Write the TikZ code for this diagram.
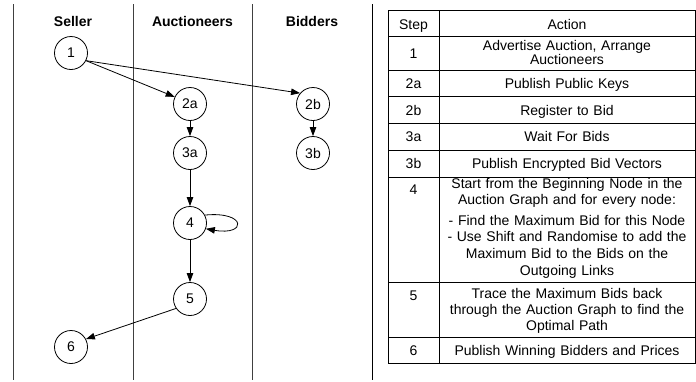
\documentclass[tikz,border=0pt]{standalone}
\usepackage{fontspec}
\setmainfont{Liberation Sans}
\usetikzlibrary{arrows.meta}
\begin{document}
\begin{tikzpicture}[x=1pt,y=-1pt,
  lane/.style={draw=black!75, line width=0.8pt},
  state/.style={circle, draw, line width=0.8pt, minimum size=33pt, inner sep=0pt,
                font=\fontsize{14}{16}\selectfont},
  arr/.style={line width=0.8pt, -{Triangle[length=9pt,width=6.5pt]}},
  lanehead/.style={anchor=base, inner sep=0pt, font=\fontsize{14}{16}\selectfont\bfseries},
  grid/.style={line width=0.8pt},
  cell/.style={anchor=base, inner sep=0pt, font=\fontsize{14}{16}\selectfont},
  act/.style={cell, text width=250pt, align=center},
]
\useasboundingbox (0,0) rectangle (696,381);

% swim lanes
\draw[lane] (13,4) -- (13,380);
\draw[lane] (133,4) -- (133,380);
\draw[lane] (252,4) -- (252,380);
\draw[line width=0.8pt] (372,4) -- (372,380);

\node[lanehead] (hseller) at (73,26) {Seller};
\node[lanehead] (hauct) at (192.5,26) {Auctioneers};
\node[lanehead] (hbid) at (312,26) {Bidders};

% protocol graph
\node[state] (n1)  at (71,53)   {1};
\node[state] (n2a) at (190,104) {2a};
\node[state] (n2b) at (313,104) {2b};
\node[state] (n3a) at (190,153) {3a};
\node[state] (n3b) at (313,153) {3b};
\node[state] (n4)  at (190,223) {4};
\node[state] (n5)  at (190,299) {5};
\node[state] (n6)  at (71,347)  {6};

\draw[arr] (n1.-27) -- (n2a.155);
\draw[arr] (n1.-27) -- (n2b.140);
\draw[arr] (n2a) -- (n3a);
\draw[arr] (n2b) -- (n3b);
\draw[arr] (n3a) -- (n4);
\draw[arr] (n4.28) .. controls (247,211) and (247,236) .. (n4.-20);
\draw[arr] (n4) -- (n5);
\draw[arr] (n5.-146) -- (n6.28);

% step table
\draw[grid] (388,10.5) rectangle (695,363.5);
\draw[grid] (439,10.5) -- (439,363.5);
\foreach \yy in {36.5,70,96.5,123,150,177,282,337.5}
  \draw[grid] (388,\yy) -- (695,\yy);

\node[cell] (s0) at (413.5,29) {Step};
\node[act]  (a0) at (567,29) {Action};

\node[cell] (s1) at (413.5,58) {1};
\node[act, font=\fontsize{14}{14.3}\selectfont] (a1) at (567,50)
  {Advertise Auction, Arrange\\Auctioneers};

\node[cell] (s2a) at (413.5,88) {2a};
\node[act]  (a2a) at (567,88) {Publish Public Keys};

\node[cell] (s2b) at (413.5,115) {2b};
\node[act]  (a2b) at (567,115) {Register to Bid};

\node[cell] (s3a) at (413.5,141.5) {3a};
\node[act]  (a3a) at (567,141.5) {Wait For Bids};

\node[cell] (s3b) at (413.5,168.5) {3b};
\node[act]  (a3b) at (567,168.5) {Publish Encrypted Bid Vectors};

\node[cell] (s4) at (413.5,194) {4};
\node[act, font=\fontsize{14}{16.7}\selectfont] (a4) at (567,188)
  {Start from the Beginning Node in the\\Auction Graph and for every node:\\[3.8pt]
   - Find the Maximum Bid for this Node\\- Use Shift and Randomise to add the\\
   Maximum Bid to the Bids on the\\Outgoing Links};

\node[cell] (s5) at (413.5,300) {5};
\node[act] (a5) at (567,298)
  {Trace the Maximum Bids back\\through the Auction Graph to find the\\Optimal Path};

\node[cell] (s6) at (413.5,355.5) {6};
\node[act]  (a6) at (567,355.5) {Publish Winning Bidders and Prices};
\end{tikzpicture}
\end{document}
